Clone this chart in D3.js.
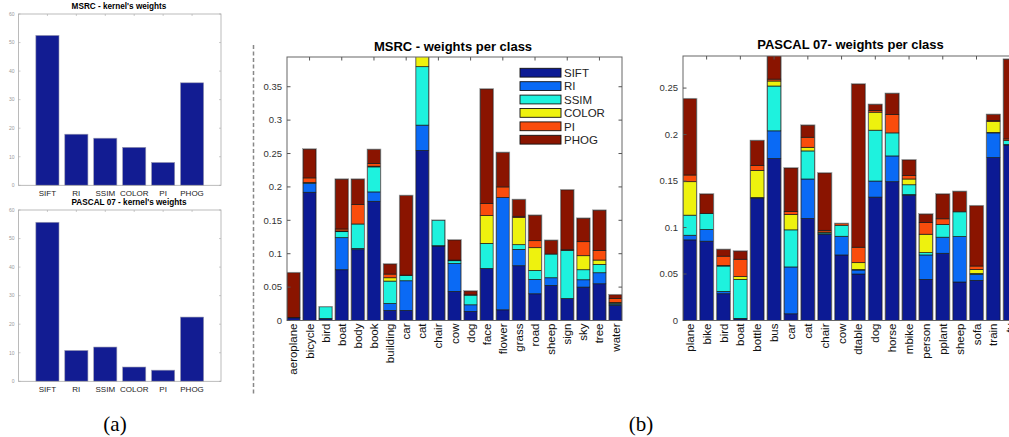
<!DOCTYPE html>
<html>
<head>
<meta charset="utf-8">
<script src="https://cdn.jsdelivr.net/npm/d3@7"></script>
<style>
body { margin: 0; background: #fff; }
svg { display: block; font-family: "Liberation Sans", Arial, Helvetica, sans-serif; }
</style>
</head>
<body>
<svg id="fig" width="1009" height="437"></svg>
<script>
var features = ["SIFT", "RI", "SSIM", "COLOR", "PI", "PHOG"];

// kernel weights (a)
var msrcKernel   = [52.5, 17.9, 16.5, 13.3, 8.0, 35.9];
var pascalKernel = [55.7, 10.8, 12.0, 5.0, 3.9, 22.5];
var kernelTicks  = [0, 10, 20, 30, 40, 50, 60];

// MSRC per class (b)
var msrcClasses = ["aeroplane", "bicycle", "bird", "boat", "body", "book", "building", "car", "cat", "chair",
                   "cow", "dog", "face", "flower", "grass", "road", "sheep", "sign", "sky", "tree", "water"];
var msrcSift  = [0.004, 0.192, 0.0025, 0.076, 0.106, 0.1785, 0.015, 0.015, 0.2545, 0.1115, 0.0435, 0.0135, 0.078, 0.016, 0.082, 0.040, 0.0525, 0.033, 0.050, 0.055, 0.0225];
var msrcRi    = [0, 0.0135, 0.0005, 0.048, 0.002, 0.014, 0.0105, 0.0445, 0.038, 0.0005, 0.042, 0.010, 0, 0.168, 0.0245, 0.0215, 0.0115, 0, 0.011, 0.0165, 0.002];
var msrcSsim  = [0, 0.001, 0.0175, 0.009, 0.0365, 0.0375, 0.0335, 0.008, 0.0875, 0.038, 0.004, 0.0145, 0.0375, 0, 0.007, 0.0135, 0.0355, 0.072, 0.015, 0.0125, 0.0015];
var msrcColor = [0, 0, 0, 0.001, 0, 0.001, 0.005, 0, 0.02, 0, 0, 0, 0.0415, 0, 0.0405, 0.034, 0, 0, 0.021, 0.0065, 0.001];
var msrcPi    = [0.0005, 0.007, 0, 0.003, 0.029, 0.004, 0.0055, 0.0005, 0, 0, 0.001, 0.0005, 0.018, 0.016, 0.002, 0.0105, 0, 0.001, 0.021, 0.0145, 0.006];
var msrcPhog  = [0.067, 0.043, 0, 0.0745, 0.038, 0.021, 0.015, 0.119, 0, 0, 0.030, 0.0055, 0.1715, 0.0515, 0.025, 0.038, 0.0205, 0.0895, 0.035, 0.06, 0.0055];
var msrcTicks = [0, 0.05, 0.1, 0.15, 0.2, 0.25, 0.3, 0.35];

// PASCAL 07 per class (b)
var pascalClasses = ["plane", "bike", "bird", "boat", "bottle", "bus", "car", "cat", "chair", "cow",
                     "dtable", "dog", "horse", "mbike", "person", "pplant", "sheep", "sofa", "train", "tv"];
var pascalSift  = [0.0867, 0.0853, 0.0288, 0.0018, 0.1317, 0.1741, 0.0072, 0.1097, 0.0928, 0.0705, 0.05, 0.1327, 0.1493, 0.1349, 0.0442, 0.0723, 0.0414, 0.0432, 0.1752, 0.1888];
var pascalRi    = [0.005, 0.0125, 0.0025, 0.0005, 0, 0.0299, 0.0504, 0.0425, 0.0005, 0.0201, 0.0043, 0.0173, 0.0277, 0.0005, 0.0263, 0.0173, 0.0489, 0.0064, 0.0266, 0.0005];
var pascalSsim  = [0.0216, 0.0173, 0.0273, 0.0419, 0.0005, 0.0482, 0.0399, 0.0302, 0.0013, 0.0119, 0.0005, 0.0547, 0.0248, 0.0106, 0.0025, 0.0136, 0.0266, 0.001, 0.0005, 0.0042];
var pascalColor = [0.036, 0, 0.0005, 0.003, 0.0293, 0.0054, 0.0165, 0.0039, 0.0005, 0, 0.0074, 0.0194, 0, 0.0062, 0.0198, 0, 0, 0.0044, 0.0117, 0];
var pascalPi    = [0.0072, 0, 0.0101, 0.0187, 0.0054, 0.002, 0.0033, 0.0108, 0.0019, 0.0018, 0.0166, 0.0018, 0.0198, 0.0036, 0.0126, 0.0062, 0, 0.0036, 0.001, 0.0018];
var pascalPhog  = [0.082, 0.0209, 0.0072, 0.0087, 0.0266, 0.03, 0.0467, 0.0129, 0.0616, 0, 0.1755, 0.0065, 0.0226, 0.0169, 0.009, 0.0266, 0.0219, 0.0648, 0.0066, 0.0857];
var pascalTicks = [0, 0.05, 0.1, 0.15, 0.2, 0.25];

var featureColors = ["#0c1a94", "#0a6af5", "#1ef2de", "#eef20e", "#fa4c0c", "#8a1400"];

var svg = d3.select("#fig");
var color = d3.scaleOrdinal().domain(features).range(featureColors);

function fmt(t) { return t === 0 ? "0" : String(+t.toFixed(2)); }

// small single-series bar chart
function kernelChart(values, title, box, titleX) {
  var x = d3.scaleLinear().domain([0, 7]).range([box.left, box.right]);
  var y = d3.scaleLinear().domain([0, 60]).range([box.bottom, box.top]);
  var g = svg.append("g");

  g.append("text")
      .attr("x", titleX)
      .attr("y", box.top - 5)
      .attr("text-anchor", "middle")
      .style("font-size", "8.2px")
      .style("font-weight", "bold")
      .text(title);

  g.selectAll(".kbar")
      .data(values)
    .enter().append("rect")
      .attr("x", function(d, i) { return x(i + 1 - 0.4); })
      .attr("width", x(0.8) - x(0))
      .attr("y", function(d) { return y(d); })
      .attr("height", function(d) { return y(0) - y(d); })
      .style("fill", "#121c92")
      .style("stroke", "#9a9ab0")
      .style("stroke-width", 0.6);

  g.append("rect")
      .attr("x", box.left).attr("y", box.top)
      .attr("width", box.right - box.left).attr("height", box.bottom - box.top)
      .style("fill", "none").style("stroke", "#aaa").style("stroke-width", 0.8);

  kernelTicks.forEach(function(t) {
    g.append("line").attr("x1", box.left).attr("x2", box.left + 2)
        .attr("y1", y(t)).attr("y2", y(t)).style("stroke", "#aaa").style("stroke-width", 0.6);
    g.append("line").attr("x1", box.right).attr("x2", box.right - 2)
        .attr("y1", y(t)).attr("y2", y(t)).style("stroke", "#aaa").style("stroke-width", 0.6);
    g.append("text")
        .attr("x", box.left - 4)
        .attr("y", y(t))
        .attr("dy", "0.35em")
        .attr("text-anchor", "end")
        .style("font-size", "5px")
        .style("fill", "#999")
        .text(t);
  });

  features.forEach(function(f, i) {
    g.append("line").attr("x1", x(i + 1)).attr("x2", x(i + 1))
        .attr("y1", box.top).attr("y2", box.top + 2).style("stroke", "#aaa").style("stroke-width", 0.6);
    g.append("text")
        .attr("x", x(i + 1))
        .attr("y", box.bottom + 11)
        .attr("text-anchor", "middle")
        .style("font-size", "8px")
        .style("fill", "#222")
        .text(f);
  });
}

// stacked bars per class
function stackedChart(opts) {
  var n = opts.classes.length;
  var rows = opts.classes.map(function(c, i) {
    var r = {name: c};
    features.forEach(function(f, k) { r[f] = opts.series[k][i]; });
    return r;
  });
  var layers = d3.stack().keys(features)(rows);

  var x = d3.scaleLinear().domain([0.6, n + 0.4]).range([opts.left, opts.right]);
  var y = d3.scaleLinear().domain([0, opts.ymax]).range([opts.bottom, opts.top]);
  var bw = x(0.8) - x(0);

  svg.append("clipPath").attr("id", opts.id + "clip")
    .append("rect")
      .attr("x", opts.left).attr("y", opts.top)
      .attr("width", opts.right - opts.left).attr("height", opts.bottom - opts.top);

  var g = svg.append("g").attr("clip-path", "url(#" + opts.id + "clip)");

  g.selectAll(".layer")
      .data(layers)
    .enter().append("g")
      .attr("class", "layer")
      .style("fill", function(d) { return color(d.key); })
    .selectAll("rect")
      .data(function(d) { return d.filter(function(s) { return s[1] - s[0] > 0; }); })
    .enter().append("rect")
      .attr("x", function(d, i) { return x(opts.classes.indexOf(d.data.name) + 1) - bw / 2; })
      .attr("width", bw)
      .attr("y", function(d) { return y(d[1]); })
      .attr("height", function(d) { return y(d[0]) - y(d[1]); })
      .style("stroke", "#1a1a1a")
      .style("stroke-width", 0.7);

  // outer grey outline of each bar
  g.selectAll(".outline")
      .data(rows)
    .enter().append("rect")
      .attr("x", function(d, i) { return x(i + 1) - bw / 2 - 0.5; })
      .attr("width", bw + 1)
      .attr("y", function(d) { return y(d3.sum(features, function(f) { return d[f]; })) - 0.5; })
      .attr("height", function(d) { return y(0) - y(d3.sum(features, function(f) { return d[f]; })) + 0.5; })
      .style("fill", "none")
      .style("stroke", "#999")
      .style("stroke-width", 0.6);

  var a = svg.append("g");

  a.append("text")
      .attr("x", opts.titleX)
      .attr("y", opts.titleY)
      .attr("text-anchor", "middle")
      .style("font-size", "13px")
      .style("font-weight", "bold")
      .text(opts.title);

  a.append("rect")
      .attr("x", opts.left).attr("y", opts.top)
      .attr("width", opts.right - opts.left).attr("height", opts.bottom - opts.top)
      .style("fill", "none").style("stroke", "#666").style("stroke-width", 1);

  opts.ticks.forEach(function(t) {
    a.append("line").attr("x1", opts.left).attr("x2", opts.left + 3.5)
        .attr("y1", y(t)).attr("y2", y(t)).style("stroke", "#555");
    a.append("line").attr("x1", opts.right).attr("x2", opts.right - 3.5)
        .attr("y1", y(t)).attr("y2", y(t)).style("stroke", "#555");
    a.append("text")
        .attr("x", opts.left - 5)
        .attr("y", y(t))
        .attr("dy", "0.35em")
        .attr("text-anchor", "end")
        .style("font-size", "9.5px")
        .style("fill", "#333")
        .text(fmt(t));
  });

  d3.range(2, n + 1, 2).forEach(function(k) {
    a.append("line").attr("x1", x(k)).attr("x2", x(k))
        .attr("y1", opts.top).attr("y2", opts.top + 3.5).style("stroke", "#555");
  });

  a.selectAll(".xlab")
      .data(opts.classes)
    .enter().append("text")
      .attr("transform", function(d, i) { return "translate(" + x(i + 1) + "," + (opts.bottom + 3) + ")rotate(-90)"; })
      .attr("dy", "0.35em")
      .attr("text-anchor", "end")
      .style("font-size", "11.5px")
      .style("fill", "#111")
      .text(function(d) { return d; });

  return {x: x, y: y};
}

kernelChart(msrcKernel, "MSRC - kernel's weights", {left: 18.5, right: 221, top: 14, bottom: 185.3}, 119);
kernelChart(pascalKernel, "PASCAL 07 - kernel's weights", {left: 18.5, right: 221, top: 210, bottom: 381.3}, 129);

stackedChart({
  id: "msrc", classes: msrcClasses,
  series: [msrcSift, msrcRi, msrcSsim, msrcColor, msrcPi, msrcPhog],
  ymax: 0.3945, ticks: msrcTicks,
  left: 287, right: 622, top: 57, bottom: 320.5,
  title: "MSRC - weights per class", titleX: 453, titleY: 51
});

stackedChart({
  id: "pascal", classes: pascalClasses,
  series: [pascalSift, pascalRi, pascalSsim, pascalColor, pascalPi, pascalPhog],
  ymax: 0.2845, ticks: pascalTicks,
  left: 683, right: 1017, top: 56, bottom: 320.5,
  title: "PASCAL 07- weights per class", titleX: 850.5, titleY: 49
});

// legend of MSRC panel
var legend = svg.append("g").selectAll(".leg")
    .data(features)
  .enter().append("g")
    .attr("transform", function(d, i) { return "translate(520," + (68.3 + i * 13.4) + ")"; });

legend.append("rect")
    .attr("width", 41)
    .attr("height", 8.8)
    .style("fill", function(d) { return color(d); })
    .style("stroke", "#111")
    .style("stroke-width", 0.9);

legend.append("text")
    .attr("x", 44)
    .attr("y", 4.6)
    .attr("dy", "0.35em")
    .style("font-size", "11.5px")
    .style("fill", "#222")
    .text(function(d) { return d; });

// separator between (a) and (b)
svg.append("line")
    .attr("x1", 253.5).attr("x2", 253.5)
    .attr("y1", 45).attr("y2", 396)
    .style("stroke", "#888")
    .style("stroke-width", 1.5)
    .style("stroke-dasharray", "4,2.5");

svg.append("text").attr("x", 115).attr("y", 431).attr("text-anchor", "middle")
    .style("font-family", "'Liberation Serif', 'Times New Roman', serif").style("font-size", "21px").text("(a)");
svg.append("text").attr("x", 641).attr("y", 431).attr("text-anchor", "middle")
    .style("font-family", "'Liberation Serif', 'Times New Roman', serif").style("font-size", "21px").text("(b)");
</script>
</body>
</html>
